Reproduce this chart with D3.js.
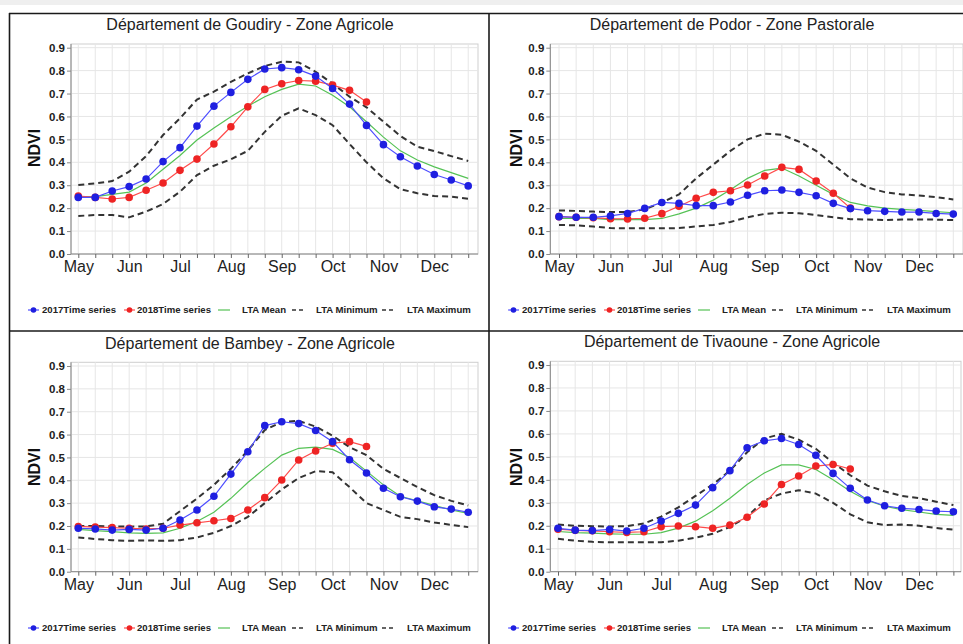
<!DOCTYPE html>
<html><head><meta charset="utf-8">
<script src="https://cdn.jsdelivr.net/npm/d3@7/dist/d3.min.js"></script>
<style>
body{margin:0;background:#fff}
svg{display:block}
text{font-family:"Liberation Sans",Arial,Helvetica,sans-serif}
</style>
</head><body>
<svg id="chart" width="963" height="644"></svg>
<script>
// ---------- DATA ----------
const months = ["May","Jun","Jul","Aug","Sep","Oct","Nov","Dec"];
const dekads = ["May-1","May-2","May-3","Jun-1","Jun-2","Jun-3","Jul-1","Jul-2","Jul-3","Aug-1","Aug-2","Aug-3",
                "Sep-1","Sep-2","Sep-3","Oct-1","Oct-2","Oct-3","Nov-1","Nov-2","Nov-3","Dec-1","Dec-2","Dec-3"];
const yTicks = [0.0,0.1,0.2,0.3,0.4,0.5,0.6,0.7,0.8,0.9];
const seriesNames = ["2017Time series","2018Time series","LTA Mean","LTA Minimum","LTA Maximum"];

const goudiry2017 = [0.247,0.247,0.275,0.294,0.327,0.403,0.464,0.558,0.645,0.705,0.762,0.807,0.813,0.804,0.776,0.722,0.654,0.561,0.477,0.424,0.384,0.347,0.323,0.297];
const goudiry2018 = [0.253,0.247,0.240,0.247,0.278,0.310,0.365,0.414,0.480,0.555,0.642,0.718,0.743,0.757,0.754,0.737,0.714,0.663];
const goudiryMean = [0.25,0.25,0.26,0.27,0.31,0.37,0.43,0.497,0.55,0.599,0.645,0.686,0.718,0.741,0.733,0.693,0.642,0.577,0.51,0.45,0.41,0.38,0.355,0.33];
const goudiryMin  = [0.166,0.17,0.17,0.16,0.185,0.218,0.272,0.344,0.385,0.413,0.45,0.533,0.603,0.635,0.606,0.562,0.48,0.40,0.33,0.283,0.265,0.253,0.25,0.241];
const goudiryMax  = [0.301,0.308,0.318,0.359,0.427,0.519,0.592,0.674,0.708,0.751,0.788,0.82,0.839,0.836,0.795,0.744,0.686,0.64,0.577,0.515,0.468,0.449,0.427,0.406];

const podor2017 = [0.163,0.16,0.16,0.166,0.177,0.199,0.225,0.221,0.211,0.211,0.227,0.256,0.276,0.279,0.269,0.254,0.221,0.198,0.189,0.186,0.183,0.183,0.177,0.174];
const podor2018 = [0.163,0.16,0.158,0.154,0.153,0.156,0.176,0.208,0.243,0.269,0.276,0.301,0.34,0.378,0.369,0.318,0.265,0.2];
const podorMean = [0.155,0.155,0.155,0.15,0.15,0.15,0.155,0.175,0.2,0.235,0.28,0.33,0.365,0.375,0.34,0.3,0.26,0.225,0.21,0.2,0.195,0.19,0.185,0.18];
const podorMin  = [0.127,0.125,0.12,0.113,0.112,0.112,0.112,0.113,0.12,0.127,0.14,0.16,0.175,0.18,0.178,0.17,0.16,0.152,0.15,0.148,0.15,0.15,0.15,0.148];
const podorMax  = [0.19,0.188,0.185,0.183,0.183,0.195,0.225,0.26,0.33,0.39,0.45,0.5,0.525,0.52,0.49,0.45,0.39,0.33,0.29,0.27,0.26,0.255,0.248,0.238];

const bambey2017 = [0.19,0.187,0.182,0.185,0.182,0.19,0.226,0.27,0.33,0.427,0.525,0.639,0.656,0.648,0.618,0.569,0.49,0.432,0.365,0.328,0.309,0.284,0.274,0.26];
const bambey2018 = [0.198,0.195,0.193,0.19,0.187,0.19,0.204,0.214,0.223,0.233,0.27,0.324,0.401,0.489,0.528,0.562,0.569,0.548];
const bambeyMean = [0.185,0.18,0.175,0.17,0.168,0.17,0.19,0.22,0.26,0.321,0.39,0.452,0.51,0.54,0.545,0.535,0.5,0.44,0.38,0.33,0.31,0.29,0.27,0.255];
const bambeyMin  = [0.15,0.143,0.138,0.135,0.137,0.135,0.138,0.15,0.17,0.2,0.24,0.3,0.36,0.41,0.44,0.435,0.37,0.3,0.27,0.24,0.23,0.215,0.205,0.195];
const bambeyMax  = [0.2,0.2,0.198,0.197,0.198,0.21,0.265,0.32,0.38,0.45,0.53,0.62,0.655,0.66,0.635,0.595,0.545,0.51,0.45,0.41,0.37,0.335,0.31,0.29];

const tivaoune2017 = [0.189,0.181,0.179,0.184,0.177,0.189,0.221,0.254,0.29,0.366,0.44,0.54,0.57,0.58,0.554,0.507,0.428,0.363,0.312,0.287,0.276,0.271,0.264,0.261];
const tivaoune2018 = [0.185,0.18,0.178,0.174,0.171,0.174,0.196,0.199,0.196,0.189,0.203,0.237,0.295,0.38,0.417,0.46,0.467,0.447];
const tivaouneMean = [0.175,0.17,0.168,0.165,0.163,0.163,0.17,0.19,0.22,0.265,0.32,0.38,0.43,0.465,0.465,0.445,0.4,0.35,0.31,0.285,0.27,0.26,0.25,0.245];
const tivaouneMin  = [0.143,0.135,0.13,0.128,0.128,0.128,0.128,0.135,0.148,0.165,0.195,0.24,0.31,0.34,0.355,0.34,0.3,0.25,0.215,0.203,0.205,0.2,0.19,0.183];
const tivaouneMax  = [0.205,0.2,0.198,0.197,0.198,0.21,0.24,0.28,0.33,0.38,0.44,0.52,0.58,0.6,0.575,0.535,0.475,0.42,0.375,0.35,0.33,0.32,0.305,0.29];

// ---------- LAYOUT ----------
const panels = [
  {title:"Département de Goudiry - Zone Agricole", d17:goudiry2017, d18:goudiry2018, mean:goudiryMean, min:goudiryMin, max:goudiryMax,
   left:71, right:478, x0:78.3, x21:434.3, yZero:254, yTop:47.7, titleX:250, titleY:30, ndviX:34, ndviY:148, legY:310, legX:28},
  {title:"Département de Podor - Zone Pastorale", d17:podor2017, d18:podor2018, mean:podorMean, min:podorMin, max:podorMax,
   left:550.3, right:963, x0:559, x21:919, yZero:254, yTop:47.7, titleX:732, titleY:30, ndviX:516, ndviY:148, legY:310, legX:508},
  {title:"Département de Bambey - Zone Agricole", d17:bambey2017, d18:bambey2018, mean:bambeyMean, min:bambeyMin, max:bambeyMax,
   left:71, right:478, x0:78.3, x21:434.3, yZero:571.7, yTop:366, titleX:250, titleY:349, ndviX:34, ndviY:467, legY:628, legX:28},
  {title:"Département de Tivaoune - Zone Agricole", d17:tivaoune2017, d18:tivaoune2018, mean:tivaouneMean, min:tivaouneMin, max:tivaouneMax,
   left:550.3, right:961, x0:558, x21:919, yZero:571.7, yTop:365, titleX:732, titleY:347, ndviX:516, ndviY:467, legY:628, legX:508}
];

const C = {blue:"#1f1fe0", blueLine:"#4d4dff", red:"#ee2424", redLine:"#ff4a4a", green:"#55c255", dash:"#333333", grid:"#e6e6e6"};

const svg = d3.select("#chart");

// page frame
svg.append("rect").attr("x",0).attr("y",0).attr("width",963).attr("height",5).attr("fill","#efefef");
const frame = svg.append("g").attr("stroke","#1a1a1a").attr("stroke-width",1.6);
frame.append("line").attr("x1",9).attr("x2",963).attr("y1",13.5).attr("y2",13.5);
frame.append("line").attr("x1",9).attr("x2",963).attr("y1",331).attr("y2",331);
frame.append("line").attr("x1",9.5).attr("x2",9.5).attr("y1",13).attr("y2",644);
frame.append("line").attr("x1",489).attr("x2",489).attr("y1",13).attr("y2",644);

panels.forEach(p => {
  const g = svg.append("g");
  const idx = d3.range(dekads.length);
  const x = d3.scaleLinear().domain([0,21]).range([p.x0,p.x21]);
  const y = d3.scaleLinear().domain([0,0.9]).range([p.yZero,p.yTop]);
  const top = p.yTop - 3.7;

  // plot background and frame
  g.append("rect").attr("x",p.left).attr("y",top).attr("width",p.right-p.left).attr("height",p.yZero-top)
    .attr("fill","#fff").attr("stroke","#cfcfcf").attr("stroke-width",1);

  // grid
  g.append("g").selectAll("line").data(idx).join("line")
    .attr("x1",d=>x(d)).attr("x2",d=>x(d)).attr("y1",top).attr("y2",p.yZero)
    .attr("stroke",C.grid).attr("stroke-width",1);
  g.append("g").selectAll("line").data(yTicks.slice(1)).join("line")
    .attr("x1",p.left).attr("x2",p.right).attr("y1",d=>y(d)).attr("y2",d=>y(d))
    .attr("stroke",C.grid).attr("stroke-width",1);

  // axes
  const ya = g.append("g").attr("transform",`translate(${p.left},0)`)
    .call(d3.axisLeft(y).tickValues(yTicks).tickFormat(d3.format(".1f")).tickSize(4).tickPadding(2));
  ya.select(".domain").attr("stroke","#888").attr("d",`M0,${top}V${p.yZero}`);
  ya.selectAll(".tick line").attr("stroke","#888");
  ya.selectAll("text").attr("font-size",11.5).attr("font-weight","bold").attr("fill","#222").attr("font-family",null);

  const xa = g.append("g").attr("transform",`translate(0,${p.yZero})`)
    .call(d3.axisBottom(x).tickValues(idx).tickFormat(i => i%3===0 ? months[i/3] : "").tickSize(4).tickPadding(3));
  xa.select(".domain").attr("stroke","#888").attr("d",`M${p.left},0H${p.right}`);
  xa.selectAll(".tick line").attr("stroke","#666");
  xa.selectAll("text").attr("font-size",16).attr("fill","#222").attr("font-family",null);

  // title & y label
  g.append("text").attr("x",p.titleX).attr("y",p.titleY).attr("text-anchor","middle")
    .attr("font-size",16).attr("fill","#222").text(p.title);
  g.append("text").attr("transform",`translate(${p.ndviX+6},${p.ndviY}) rotate(-90)`).attr("text-anchor","middle")
    .attr("font-size",16).attr("font-weight","bold").attr("fill","#111").text("NDVI");

  // lines
  const line = d3.line().x((d,i)=>x(i)).y(d=>y(d));
  const plot = g.append("g");
  plot.append("path").datum(p.min).attr("d",line).attr("fill","none").attr("stroke",C.dash).attr("stroke-width",2).attr("stroke-dasharray","6,4");
  plot.append("path").datum(p.max).attr("d",line).attr("fill","none").attr("stroke",C.dash).attr("stroke-width",2).attr("stroke-dasharray","6,4");
  plot.append("path").datum(p.mean).attr("d",line).attr("fill","none").attr("stroke",C.green).attr("stroke-width",1.2);
  plot.append("path").datum(p.d18).attr("d",line).attr("fill","none").attr("stroke",C.redLine).attr("stroke-width",1.2);
  plot.append("g").selectAll("circle").data(p.d18).join("circle")
    .attr("cx",(d,i)=>x(i)).attr("cy",d=>y(d)).attr("r",3.8).attr("fill",C.red);
  plot.append("path").datum(p.d17).attr("d",line).attr("fill","none").attr("stroke",C.blueLine).attr("stroke-width",1.2);
  plot.append("g").selectAll("circle").data(p.d17).join("circle")
    .attr("cx",(d,i)=>x(i)).attr("cy",d=>y(d)).attr("r",3.8).attr("fill",C.blue);

  // legend
  const L = g.append("g").attr("transform",`translate(${p.legX},${p.legY})`);
  const item = [
    {sx:0, tx:14, type:"m", col:C.blue, lc:C.blueLine},
    {sx:96, tx:109, type:"m", col:C.red, lc:C.redLine},
    {sx:190, tx:214, type:"l", col:C.green},
    {sx:264, tx:288, type:"d", col:C.dash},
    {sx:354, tx:379, type:"d", col:C.dash}
  ];
  item.forEach((it,k) => {
    if (it.type==="m") {
      L.append("line").attr("x1",it.sx).attr("x2",it.sx+11).attr("y1",0).attr("y2",0).attr("stroke",it.lc).attr("stroke-width",1.2);
      L.append("circle").attr("cx",it.sx+5.5).attr("cy",0).attr("r",2.8).attr("fill",it.col);
    } else if (it.type==="l") {
      L.append("line").attr("x1",it.sx).attr("x2",it.sx+12).attr("y1",0).attr("y2",0).attr("stroke",it.col).attr("stroke-width",1.2);
    } else {
      L.append("line").attr("x1",it.sx).attr("x2",it.sx+12).attr("y1",0).attr("y2",0).attr("stroke",it.col).attr("stroke-width",1.5).attr("stroke-dasharray","4,3");
    }
    L.append("text").attr("x",it.tx).attr("y",3.3).attr("font-size",9.6).attr("font-weight","bold").attr("fill","#222").text(seriesNames[k]);
  });
});
</script>
</body></html>
